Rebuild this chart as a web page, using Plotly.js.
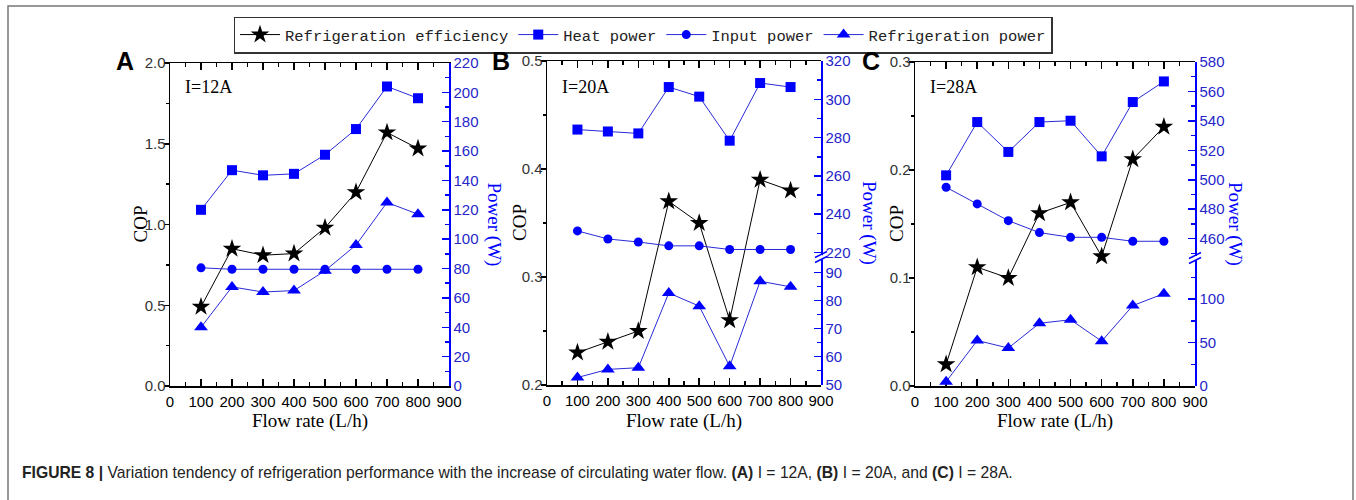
<!DOCTYPE html>
<html>
<head>
<meta charset="utf-8">
<script src="https://cdn.plot.ly/plotly-3.0.1.min.js"></script>
<style>html,body{margin:0;padding:0;background:#fff;}#chart{width:1356px;height:500px;}</style>
</head>
<body>
<div id="chart"></div>
<script>
// ---- data ----
const flowRate = [100, 200, 300, 400, 500, 600, 700, 800];
const seriesNames = ['Refrigeration efficiency', 'Heat power', 'Input power', 'Refrigeration power'];
const panelLabels = ['A', 'B', 'C'];
const currentLabels = ['I=12A', 'I=20A', 'I=28A'];

// Panel A (I = 12 A)
const copA = [0.49, 0.85, 0.81, 0.82, 0.98, 1.20, 1.57, 1.47];
const heatA = [120, 147, 143.5, 144.5, 157.5, 175, 204, 196];
const inputA = [80.5, 79.5, 79.5, 79.5, 79.5, 79.5, 79.5, 79.5];
const refrA = [40, 67.5, 64, 65, 78.5, 96, 125, 117];

// Panel B (I = 20 A)
const copB = [0.23, 0.24, 0.25, 0.37, 0.35, 0.26, 0.39, 0.38];
const heatB = [284.2, 283.2, 282.2, 306.4, 301.4, 278.4, 308.5, 306.4];
const inputB = [231.3, 227.1, 225.5, 223.5, 223.5, 221.6, 221.6, 221.6];
const refrB = [52.5, 55.4, 56, 82.7, 78, 56.5, 86.9, 84.9];

// Panel C (I = 28 A)
const copC = [0.02, 0.11, 0.10, 0.16, 0.17, 0.12, 0.21, 0.24];
const heatC = [503, 539.2, 518.9, 539.2, 540.1, 515.9, 552.8, 566.8];
const inputC = [494.9, 483.6, 472.2, 464.1, 460.9, 460.9, 458.2, 458.2];
const refrC = [5, 52.4, 43.7, 72.2, 76.2, 51.6, 92.5, 106.3];

// ---- geometry helpers (pixels -> paper) ----
const W = 1356, H = 500;
const PX = p => p / W;
const PY = p => 1 - p / H;
const dom = (a, b) => [PY(b), PY(a)];

const BLUE = '#0000ff';
const BLUE_LINE = '#2a2ad8';
const BLUE_TXT = '#2626c8';
const SANS = 'Liberation Sans, Arial, sans-serif';
const SERIF = 'Liberation Serif, Times New Roman, serif';
const MONO = 'Liberation Mono, Courier New, monospace';

function tr(x, y, xa, ya, kind, legend) {
  const m = {
    star: {symbol: 'star', size: 14, color: '#000'},
    square: {symbol: 'square', size: 10, color: BLUE},
    circle: {symbol: 'circle', size: 9, color: BLUE},
    triangle: {symbol: 'triangle-up', size: 12, color: BLUE}
  }[kind];
  const names = {star: seriesNames[0], square: seriesNames[1], circle: seriesNames[2], triangle: seriesNames[3]};
  return {
    x: x, y: y, xaxis: xa, yaxis: ya, type: 'scatter', mode: 'lines+markers',
    name: names[kind], showlegend: legend,
    line: {color: kind === 'star' ? '#000' : BLUE_LINE, width: 1},
    marker: {symbol: m.symbol, size: m.size, color: m.color, line: {width: 0}},
    cliponaxis: false
  };
}

const data = [
  tr(flowRate, copA, 'x', 'y', 'star', true),
  tr(flowRate, heatA, 'x', 'y2', 'square', true),
  tr(flowRate, inputA, 'x', 'y2', 'circle', true),
  tr(flowRate, refrA, 'x', 'y2', 'triangle', true),

  tr(flowRate, copB, 'x2', 'y3', 'star', false),
  tr(flowRate, heatB, 'x2', 'y5', 'square', false),
  tr(flowRate, inputB, 'x2', 'y5', 'circle', false),
  tr(flowRate, refrB, 'x2', 'y4', 'triangle', false),

  tr(flowRate, copC, 'x3', 'y6', 'star', false),
  tr(flowRate, heatC, 'x3', 'y8', 'square', false),
  tr(flowRate, inputC, 'x3', 'y8', 'circle', false),
  tr(flowRate, refrC, 'x3', 'y7', 'triangle', false)
];

function xAxis(x0, x1, anchor) {
  return {
    domain: [PX(x0), PX(x1)], anchor: anchor, range: [0, 900],
    tickmode: 'linear', tick0: 0, dtick: 100,
    ticks: 'inside', ticklen: 7, tickwidth: 1.5, tickcolor: '#000',
    minor: {ticks: 'inside', ticklen: 4, tickwidth: 1.5, dtick: 50, tickcolor: '#000', showgrid: false},
    showline: true, linecolor: '#000', linewidth: 1.5, mirror: 'ticks',
    showgrid: false, zeroline: false,
    tickfont: {family: SANS, size: 15, color: '#000'}, ticklabelstandoff: 1,
    fixedrange: true
  };
}
function yLeft(y0, y1, anchor, range, dtick, mdtick) {
  return {
    domain: dom(y0, y1), anchor: anchor, range: range,
    tickmode: 'linear', tick0: 0, dtick: dtick, tickformat: '.1f',
    ticks: 'outside', ticklen: 5, tickwidth: 1.5, tickcolor: '#000',
    minor: {ticks: 'outside', ticklen: 3, tickwidth: 1.5, dtick: mdtick, tickcolor: '#000', showgrid: false},
    showline: true, linecolor: '#000', linewidth: 1.5, mirror: false,
    showgrid: false, zeroline: false,
    tickfont: {family: SANS, size: 15, color: '#333'}, ticklabelstandoff: -5,
    fixedrange: true
  };
}
function yRight(y0, y1, anchor, range, tick0, dtick, mdtick, overlay) {
  const a = {
    domain: dom(y0, y1), anchor: anchor, side: 'right', range: range,
    tickmode: 'linear', tick0: tick0, dtick: dtick,
    ticks: 'inside', ticklen: 7, tickwidth: 1.5, tickcolor: BLUE,
    minor: {ticks: 'inside', ticklen: 4, tickwidth: 1.5, dtick: mdtick, tickcolor: BLUE, showgrid: false},
    showline: true, linecolor: BLUE, linewidth: 1.5,
    showgrid: false, zeroline: false,
    tickfont: {family: SANS, size: 15, color: BLUE_TXT},
    fixedrange: true
  };
  if (overlay) a.overlaying = overlay;
  return a;
}

// break marks on the right axes
function breakMarks(xp, yp) {
  const s = [];
  s.push({type: 'line', xref: 'paper', yref: 'paper', x0: PX(xp - 1), x1: PX(xp + 1), y0: PY(yp + 2), y1: PY(yp - 2), line: {color: '#fff', width: 4}});
  [-2.5, 2.5].forEach(d => {
    s.push({type: 'line', xref: 'paper', yref: 'paper', x0: PX(xp - 6), x1: PX(xp + 6), y0: PY(yp + d + 3), y1: PY(yp + d - 3), line: {color: BLUE, width: 1.5}});
  });
  return s;
}

const annotations = [];
function ann(text, x, y, opts) {
  annotations.push(Object.assign({text: text, xref: 'paper', yref: 'paper', x: PX(x), y: PY(y), showarrow: false, xanchor: 'center', yanchor: 'middle'}, opts));
}
const panels = [
  {x0: 170, x1: 449, y0: 63, y1: 386},
  {x0: 547, x1: 821, y0: 61, y1: 385},
  {x0: 915, x1: 1195, y0: 62, y1: 386}
];
const labelX = [125, 501, 871];
const copTitleX = [140, 520, 897];
const powerTitleX = [494, 869, 1235];
panels.forEach((p, i) => {
  const cx = (p.x0 + p.x1) / 2, cy = (p.y0 + p.y1) / 2;
  ann('<b>' + panelLabels[i] + '</b>', labelX[i], 61, {font: {family: SANS, size: 25, color: '#000'}});
  ann(currentLabels[i], p.x0 + 13, 87, {xanchor: 'left', font: {family: SERIF, size: 18, color: '#000'}});
  ann('Flow rate (L/h)', cx, 421, {font: {family: SERIF, size: 19, color: '#000'}});
  ann('COP', copTitleX[i], cy, {textangle: -90, font: {family: SERIF, size: 19, color: '#000'}});
  ann('Power (W)', powerTitleX[i], cy, {textangle: 90, font: {family: SERIF, size: 19, color: BLUE}});
});
ann('<b>FIGURE 8 |</b> Variation tendency of refrigeration performance with the increase of circulating water flow. <b>(A)</b> I = 12A, <b>(B)</b> I = 20A, and <b>(C)</b> I = 28A.',
    20, 472, {xanchor: 'left', font: {family: SANS, size: 15.7, color: '#222'}});

const shapes = [
  {type: 'rect', xref: 'paper', yref: 'paper', x0: PX(8), x1: PX(1353), y0: PY(520), y1: PY(6), line: {color: '#777', width: 1.5}, fillcolor: 'rgba(0,0,0,0)'}
].concat(breakMarks(821, 257)).concat(breakMarks(1195, 258));

const layout = {
  width: W, height: H,
  margin: {l: 0, r: 0, t: 0, b: 0, pad: 0},
  paper_bgcolor: '#fff', plot_bgcolor: 'rgba(0,0,0,0)',
  showlegend: true,
  legend: {
    orientation: 'h', x: PX(643), y: PY(35), xanchor: 'center', yanchor: 'middle',
    font: {family: MONO, size: 15.5, color: '#222'},
    bordercolor: '#333', borderwidth: 1.5, bgcolor: '#fff',
    itemwidth: 40, tracegroupgap: 0
  },
  xaxis: xAxis(170, 449, 'y'),
  yaxis: yLeft(63, 386, 'x', [0, 2], 0.5, 0.25),
  yaxis2: yRight(63, 386, 'x', [0, 220], 0, 20, 10, 'y'),

  xaxis2: xAxis(547, 821, 'y3'),
  yaxis3: yLeft(61, 385, 'x2', [0.2, 0.5], 0.1, 0.05),
  yaxis4: yRight(258, 384.5, 'x2', [50, 95.2], 50, 10, 5, null),
  yaxis5: yRight(61, 256, 'x2', [218.2, 320], 220, 20, 10, null),

  xaxis3: xAxis(915, 1195, 'y6'),
  yaxis6: yLeft(62, 386, 'x3', [0, 0.3], 0.1, 0.05),
  yaxis7: yRight(260, 386, 'x3', [0, 145], 0, 50, 25, null),
  yaxis8: yRight(62, 256, 'x3', [448.2, 580], 460, 20, 10, null),

  annotations: annotations,
  shapes: shapes
};

Plotly.newPlot('chart', data, layout, {staticPlot: true, displayModeBar: false});
</script>
</body>
</html>
